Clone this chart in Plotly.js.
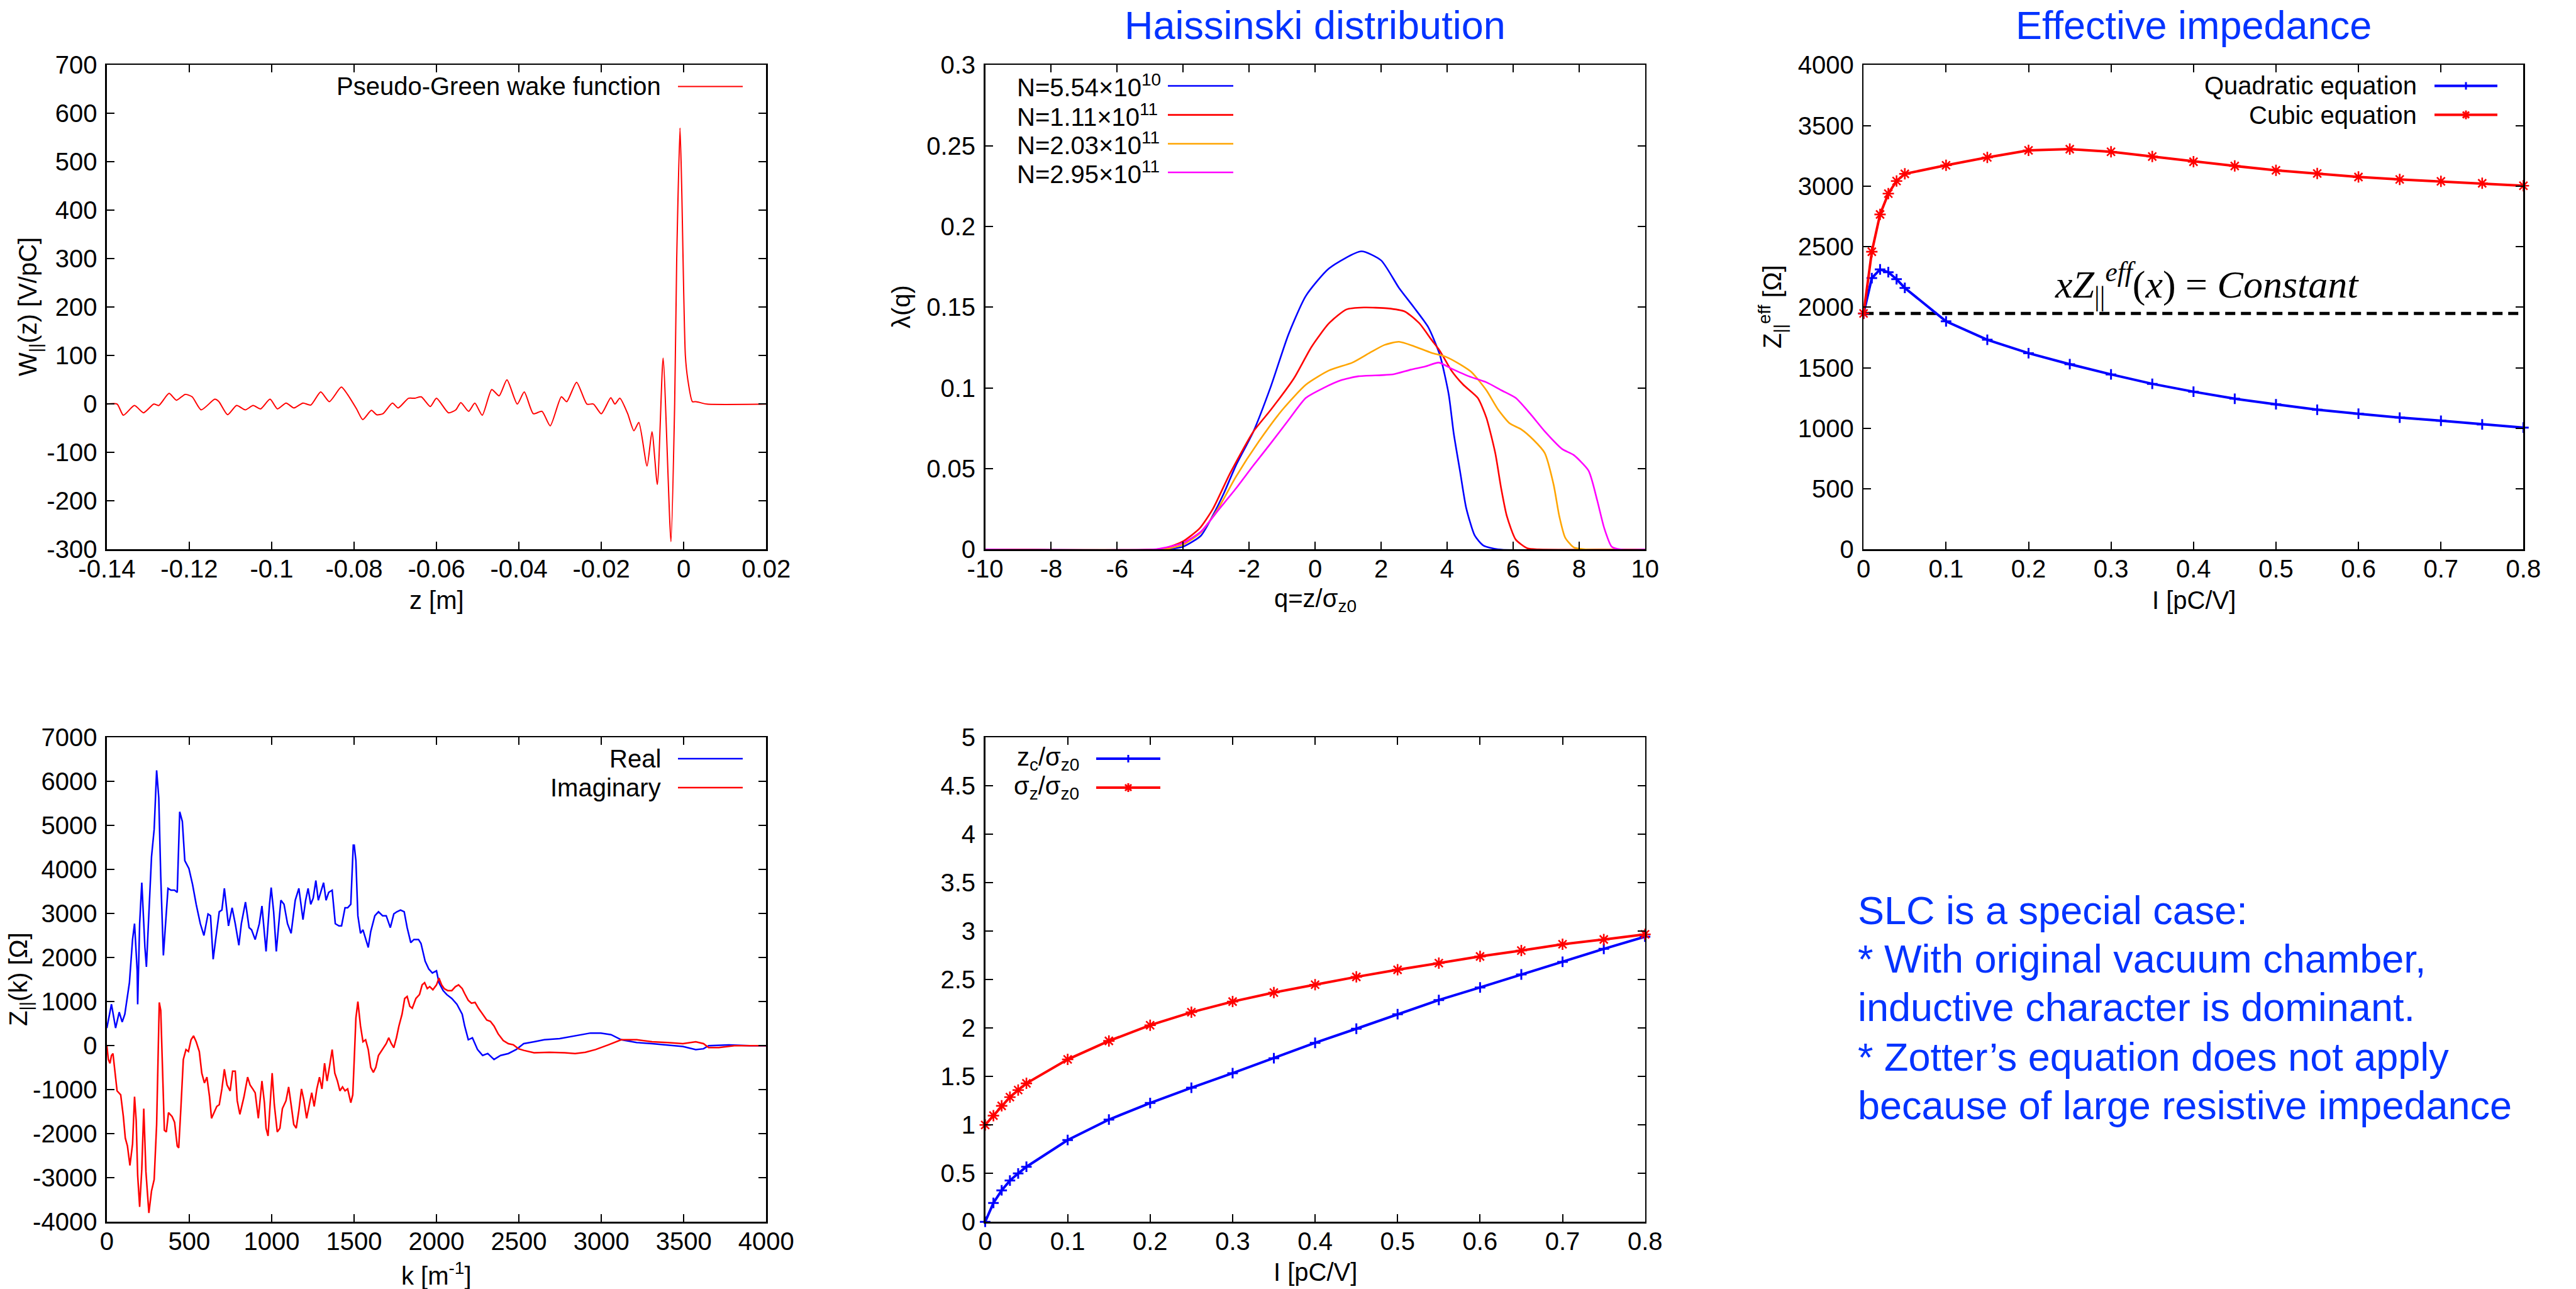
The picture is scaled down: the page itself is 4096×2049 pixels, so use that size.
<!DOCTYPE html>
<html>
<head>
<meta charset="utf-8">
<script src="https://cdn.plot.ly/plotly-3.0.1.min.js"></script>
<style>html,body{margin:0;padding:0;background:#fff;}#plot{width:4096px;height:2049px;}</style>
</head>
<body>
<div id="plot"></div>
<script>
// ---------------- DATA ----------------
// Plot 1: pseudo-Green wake function
const wakeZ = [-0.14,-0.1375,-0.1360,-0.1333,-0.1311,-0.1286,-0.1274,-0.1249,-0.1231,-0.1210,-0.1193,-0.1171,-0.1138,-0.1128,-0.1107,-0.1085,-0.1064,-0.1045,-0.1027,-0.1004,-0.0986,-0.0965,-0.0946,-0.0924,-0.0905,-0.0881,-0.0860,-0.0831,-0.0816,-0.0794,-0.0779,-0.0758,-0.0745,-0.0730,-0.0707,-0.0693,-0.0668,-0.0653,-0.0637,-0.0615,-0.0600,-0.0571,-0.0553,-0.0541,-0.0522,-0.0507,-0.0489,-0.0466,-0.0448,-0.0429,-0.0404,-0.0387,-0.0365,-0.0344,-0.0324,-0.0297,-0.0284,-0.0260,-0.0235,-0.0219,-0.0200,-0.0177,-0.0167,-0.0155,-0.0136,-0.0121,-0.0109,-0.0089,-0.0077,-0.0064,-0.0050,-0.0031,-0.0022,-0.0017,-0.0009,-0.0005,0.0004,0.0010,0.0021,0.0030,0.0056,0.02];
const wakeW = [0,0,-23,-3,-18,0,-3,22,8,20,15,-12,10,5,-22,-3,-12,-3,-10,10,-10,2,-8,2,-2,25,5,35,20,-10,-32,-13,-22,-20,2,-8,12,12,15,-5,12,-18,-12,3,-15,2,-23,30,17,50,0,25,-20,-15,-45,15,5,45,0,0,-20,13,0,12,-20,-55,-38,-128,-57,-166,95,-284,0,300,570,450,100,50,5,5,0,0];

// Plot 2: Haissinski distribution
const hq1 = [-10,-4.6,-4,-3.46,-3.1,-2.76,-2.4,-1.87,-1.34,-0.81,-0.28,0.42,1.4,2.0,2.54,2.99,3.43,3.78,4.05,4.2,4.4,4.58,4.84,5.1,5.55,10];
const hl1 = [0,0,0.0017,0.0085,0.021,0.035,0.052,0.073,0.101,0.133,0.157,0.174,0.1846,0.179,0.162,0.150,0.1376,0.1205,0.096,0.072,0.0475,0.0256,0.0085,0.0024,0,0];
const hq2 = [-10,-4.8,-4.5,-4,-3.5,-3.1,-2.58,-1.87,-1.34,-0.64,-0.11,0.42,0.95,1.48,2.19,2.72,3.16,3.52,3.78,4.13,4.49,4.93,5.19,5.46,5.64,5.81,6.08,6.43,6.78,10];
const hl2 = [0,0,0.001,0.005,0.013,0.025,0.047,0.073,0.0865,0.106,0.1254,0.140,0.1486,0.1498,0.1493,0.1473,0.140,0.130,0.123,0.1108,0.102,0.0938,0.0816,0.0597,0.0377,0.0207,0.0061,0.0007,0,0];
const hq3 = [-10,-4.6,-4,-3.46,-2.93,-2.4,-1.7,-0.99,-0.28,0.42,1.13,1.66,2.1,2.54,2.99,3.52,3.96,4.4,4.75,5.19,5.55,5.9,6.25,6.61,6.96,7.23,7.4,7.58,7.84,8.2,10];
const hl3 = [0,0,0.003,0.0105,0.0256,0.045,0.067,0.0865,0.102,0.1108,0.1157,0.1218,0.1266,0.1286,0.1259,0.1218,0.1193,0.1145,0.1096,0.0986,0.0865,0.078,0.0743,0.068,0.0597,0.040,0.0207,0.0073,0.0012,0,0];
const hq4 = [-10,-4.9,-4.52,-4,-3.46,-2.93,-2.4,-1.87,-1.34,-0.81,-0.28,0.25,0.78,1.31,2.01,2.37,2.9,3.34,3.75,4.13,4.66,5.19,5.64,6.08,6.52,6.96,7.49,7.84,8.29,8.55,8.76,8.99,9.26,10];
const hl4 = [0,0,0.0012,0.004,0.011,0.0244,0.0377,0.052,0.0658,0.080,0.0938,0.0999,0.1047,0.1072,0.1079,0.1084,0.1113,0.1133,0.1157,0.112,0.1072,0.1035,0.0986,0.0938,0.084,0.0731,0.0621,0.0584,0.0487,0.0304,0.0134,0.0017,0,0];
const hNames = ["N=5.54×10<sup>10</sup>","N=1.11×10<sup>11</sup>","N=2.03×10<sup>11</sup>","N=2.95×10<sup>11</sup>"];

// Plot 3 & 5: current scan
const currentI = [0,0.01,0.02,0.03,0.04,0.05,0.1,0.15,0.2,0.25,0.3,0.35,0.4,0.45,0.5,0.55,0.6,0.65,0.7,0.75,0.8];
const zQuad  = [1948,2240,2312,2289,2231,2159,1883,1731,1620,1529,1445,1367,1302,1244,1198,1153,1120,1088,1062,1032,1006];
const zCubic = [1948,2458,2766,2938,3042,3101,3172,3237,3295,3305,3283,3244,3201,3166,3130,3104,3075,3055,3039,3023,3003];
const constLineI = [0,0.8];
const constLineZ = [1948,1948];
const zcRatio = [0,0.195,0.325,0.426,0.499,0.568,0.844,1.055,1.226,1.384,1.534,1.688,1.847,1.993,2.143,2.289,2.419,2.553,2.683,2.817,2.943];
const szRatio = [1.0,1.096,1.197,1.287,1.360,1.429,1.676,1.867,2.029,2.163,2.273,2.366,2.447,2.528,2.601,2.670,2.739,2.800,2.865,2.914,2.967];

// Plot 4: impedance Z(k)
const realK = [0,28,53,75,93,109,137,156,168,184,187,199,212,231,240,255,271,287,302,315,327,343,355,371,389,411,427,442,458,473,498,520,542,567,589,614,629,645,660,682,698,713,738,760,779,801,816,841,863,878,900,925,941,966,987,997,1012,1028,1056,1075,1096,1118,1143,1165,1190,1206,1221,1237,1252,1268,1283,1315,1330,1346,1367,1386,1408,1424,1445,1461,1480,1495,1501,1511,1523,1539,1554,1570,1586,1601,1626,1648,1673,1695,1720,1741,1760,1782,1804,1822,1844,1863,1891,1906,1931,1953,1975,2000,2015,2040,2062,2093,2124,2156,2171,2193,2218,2249,2280,2311,2349,2389,2436,2483,2529,2592,2654,2747,2841,2934,2997,3059,3121,3215,3308,3402,3495,3573,3620,3651,3775,3900,4000];
const realZ = [400,940,400,760,536,714,1430,2410,2770,1700,940,2770,3700,2230,1790,2950,4290,4910,6250,5630,3840,2050,2770,3570,3530,3530,3480,5310,5090,4200,4020,3660,3210,2770,2500,2990,2950,1960,2410,3040,3080,3570,2720,3130,2770,2280,2770,3260,2680,2630,2410,2770,3170,2140,3210,3590,3040,2140,3300,3210,2770,2550,3300,3570,2860,3300,3570,3210,3350,3750,3300,3700,3300,3480,3530,2770,2720,2720,3130,3130,3210,4550,4550,4200,2950,2550,2630,2410,2230,2590,2950,3040,2950,2950,2680,2990,3040,3080,3040,2680,2340,2410,2410,2320,1920,1740,1650,1700,1430,1250,1160,1070,940,714,446,134,179,-89,-223,-179,-313,-223,-179,-89,45,89,134,160,223,286,286,250,134,71,45,18,-18,-89,-71,0,18,0,0];
const imagK = [0,9,19,28,37,50,62,84,100,112,125,140,156,168,178,187,199,212,224,237,255,271,287,302,318,327,336,349,361,374,396,411,427,436,449,464,480,495,511,526,542,561,576,592,607,623,635,651,667,682,698,713,729,748,763,779,791,807,832,854,869,885,900,919,941,956,966,978,991,1003,1016,1034,1050,1065,1087,1103,1118,1134,1149,1165,1181,1196,1212,1227,1243,1258,1274,1290,1305,1321,1336,1352,1367,1383,1399,1414,1430,1445,1461,1480,1492,1501,1511,1523,1539,1554,1570,1586,1601,1617,1632,1648,1673,1695,1710,1726,1741,1757,1772,1791,1807,1822,1838,1853,1875,1897,1913,1928,1944,1959,1978,2000,2015,2031,2047,2068,2093,2115,2134,2156,2171,2193,2212,2234,2255,2280,2305,2327,2349,2374,2405,2436,2467,2498,2529,2592,2685,2779,2841,2903,2965,3043,3121,3215,3308,3402,3495,3573,3620,3651,3713,3807,4000];
const imagZ = [0,-313,-400,-223,-179,-625,-1027,-1116,-1607,-2100,-2280,-2720,-2230,-1160,-1700,-2950,-3660,-2810,-1430,-2860,-3800,-3300,-3040,-1790,980,800,-446,-1920,-1960,-1520,-1610,-1740,-2280,-2320,-1430,-313,-89,-134,134,223,89,-134,-625,-848,-714,-1160,-1650,-1520,-1380,-1340,-982,-536,-893,-1027,-580,-580,-1250,-1560,-1160,-714,-893,-982,-1070,-1650,-804,-1295,-1875,-2050,-1340,-625,-1340,-1960,-1875,-1430,-1250,-938,-1340,-1790,-1875,-1470,-982,-1250,-1650,-1340,-1070,-1380,-982,-714,-982,-400,-804,-446,-89,-625,-804,-1027,-938,-1027,-982,-1295,-1116,-313,625,1000,446,89,134,-89,-491,-607,-491,-223,-89,45,179,45,-45,179,446,714,1070,1116,893,848,1070,1160,1380,1430,1295,1340,1270,1380,1536,1380,1295,1250,1250,1340,1380,1295,1180,1027,964,982,848,714,580,553,446,268,116,45,18,-71,-107,-161,-152,-161,-179,-152,-89,18,134,134,89,71,45,89,45,-45,-45,0,0];

// Tick labels
const wakeXTicks = [-0.14,-0.12,-0.1,-0.08,-0.06,-0.04,-0.02,0,0.02];
const wakeXText  = ["-0.14","-0.12","-0.1","-0.08","-0.06","-0.04","-0.02","0","0.02"];
const wakeYTicks = [-300,-200,-100,0,100,200,300,400,500,600,700];
const wakeYText  = ["-300","-200","-100","0","100","200","300","400","500","600","700"];
const qTicks = [-10,-8,-6,-4,-2,0,2,4,6,8,10];
const qText  = ["-10","-8","-6","-4","-2","0","2","4","6","8","10"];
const lamTicks = [0,0.05,0.1,0.15,0.2,0.25,0.3];
const lamText  = ["0","0.05","0.1","0.15","0.2","0.25","0.3"];
const iTicks = [0,0.1,0.2,0.3,0.4,0.5,0.6,0.7,0.8];
const iText  = ["0","0.1","0.2","0.3","0.4","0.5","0.6","0.7","0.8"];
const effTicks = [0,500,1000,1500,2000,2500,3000,3500,4000];
const effText  = ["0","500","1000","1500","2000","2500","3000","3500","4000"];
const kTicks = [0,500,1000,1500,2000,2500,3000,3500,4000];
const kText  = ["0","500","1000","1500","2000","2500","3000","3500","4000"];
const zkTicks = [-4000,-3000,-2000,-1000,0,1000,2000,3000,4000,5000,6000,7000];
const zkText  = ["-4000","-3000","-2000","-1000","0","1000","2000","3000","4000","5000","6000","7000"];
const rTicks = [0,0.5,1,1.5,2,2.5,3,3.5,4,4.5,5];
const rText  = ["0","0.5","1","1.5","2","2.5","3","3.5","4","4.5","5"];

const noteLines = ["SLC is a special case:","* With original vacuum chamber,","inductive character is dominant.","* Zotter\u2019s equation does not apply","because of large resistive impedance"];

// ---------------- STYLE / LAYOUT ----------------
const W = 4096, H = 2049;
const X = px => px / W;
const Y = py => 1 - py / H;
const FONT = "Liberation Sans, Arial, sans-serif";
const BLUE = "#0000ff", RED = "#ff0000", ORANGE = "#ffa500", MAGENTA = "#ff00ff";
const SLIDEBLUE = "#0433ff";

const col1 = [X(169.9), X(1218.2)], col2 = [X(1566.5), X(2615.7)], col3 = [X(2963.2), X(4012.4)];
const row1 = [Y(873.3), Y(103.3)], row2 = [Y(1942.2), Y(1172.1)];

function axis(domain, anchor, range, tv, tt, isX) {
  return {
    domain: domain, anchor: anchor, range: range, autorange: false,
    tickmode: 'array', tickvals: tv, ticktext: tt,
    showline: true, linecolor: '#000', linewidth: 2.5, mirror: 'ticks',
    ticks: 'inside', ticklen: 12, tickwidth: 2, tickcolor: '#000',
    showgrid: false, zeroline: false, fixedrange: true,
    tickfont: {family: FONT, size: 40, color: '#000'},
    ticklabelstandoff: isX ? -6 : 5
  };
}

const traces = [];
traces.push({x: wakeZ, y: wakeW, xaxis: 'x', yaxis: 'y', mode: 'lines', line: {color: RED, width: 2, shape: 'spline', smoothing: 0.6}, showlegend: false});

const hq = [hq1, hq2, hq3, hq4], hl = [hl1, hl2, hl3, hl4], hc = [BLUE, RED, ORANGE, MAGENTA];
for (let i = 0; i < 4; i++) {
  traces.push({x: hq[i], y: hl[i], xaxis: 'x2', yaxis: 'y2', mode: 'lines', line: {color: hc[i], width: 2.6, shape: 'spline', smoothing: 0.6}, showlegend: false});
}

traces.push({x: constLineI, y: constLineZ, xaxis: 'x3', yaxis: 'y3', mode: 'lines', line: {color: '#000', width: 5, dash: '16px,9px'}, showlegend: false});
traces.push({x: currentI, y: zQuad, xaxis: 'x3', yaxis: 'y3', mode: 'lines+markers', cliponaxis: false,
  line: {color: BLUE, width: 4}, marker: {symbol: 'cross-thin', size: 12, line: {color: BLUE, width: 3}}, showlegend: false});
traces.push({x: currentI, y: zCubic, xaxis: 'x3', yaxis: 'y3', mode: 'lines+markers', cliponaxis: false,
  line: {color: RED, width: 4}, marker: {symbol: 'asterisk', size: 15, line: {color: RED, width: 2.6}}, showlegend: false});

traces.push({x: realK, y: realZ, xaxis: 'x4', yaxis: 'y4', mode: 'lines', line: {color: BLUE, width: 2.5}, showlegend: false});
traces.push({x: imagK, y: imagZ, xaxis: 'x4', yaxis: 'y4', mode: 'lines', line: {color: RED, width: 2.5}, showlegend: false});

traces.push({x: currentI, y: zcRatio, xaxis: 'x5', yaxis: 'y5', mode: 'lines+markers', cliponaxis: false,
  line: {color: BLUE, width: 4}, marker: {symbol: 'cross-thin', size: 12, line: {color: BLUE, width: 3}}, showlegend: false});
traces.push({x: currentI, y: szRatio, xaxis: 'x5', yaxis: 'y5', mode: 'lines+markers', cliponaxis: false,
  line: {color: RED, width: 4}, marker: {symbol: 'asterisk', size: 15, line: {color: RED, width: 2.6}}, showlegend: false});

const annotations = [];
const shapes = [];
function txt(text, px, py, opts) {
  annotations.push(Object.assign({text: text, x: X(px), y: Y(py), xref: 'paper', yref: 'paper', showarrow: false,
    xanchor: 'center', yanchor: 'middle', font: {family: FONT, size: 40, color: '#000'}}, opts || {}));
}
function hline(x0, x1, py, color, width) {
  shapes.push({type: 'line', xref: 'paper', yref: 'paper', x0: X(x0), x1: X(x1), y0: Y(py), y1: Y(py), line: {color: color, width: width}});
}
function seg(ax, ay, bx, by, color, width) {
  shapes.push({type: 'line', xref: 'paper', yref: 'paper', x0: X(ax), x1: X(bx), y0: Y(ay), y1: Y(by), line: {color: color, width: width}});
}
function plusMark(cx, cy, r, color) { seg(cx - r, cy, cx + r, cy, color, 3); seg(cx, cy - r, cx, cy + r, color, 3); }
function starMark(cx, cy, r, color) { plusMark(cx, cy, r, color); const d = r * 0.72; seg(cx - d, cy - d, cx + d, cy + d, color, 3); seg(cx - d, cy + d, cx + d, cy - d, color, 3); }

// Titles
txt("Haissinski distribution", 2091, 40, {font: {family: FONT, size: 63, color: SLIDEBLUE}});
txt("Effective impedance", 3488, 40, {font: {family: FONT, size: 63, color: SLIDEBLUE}});

// Axis titles
txt("W<sub>||</sub>(z) [V/pC]", 47, 488, {textangle: -90});
txt("z [m]", 694, 954);
txt("λ(q)", 1433, 488, {textangle: -90});
txt("q=z/σ<sub>z0</sub>", 2091, 954);
txt("Z<sub>||</sub><sup>eff</sup> [Ω]", 2818, 488, {textangle: -90});
txt("I [pC/V]", 3488, 954);
txt("Z<sub>||</sub>(k) [Ω]", 32, 1557, {textangle: -90});
txt("k [m<sup>-1</sup>]", 694, 2025);
txt("I [pC/V]", 2091, 2022);

// Equation annotation
txt("<i>xZ</i><sub>||</sub><sup><i>eff</i></sup>(<i>x</i>) = <i>Constant</i>", 3509, 451,
  {font: {family: "Liberation Serif, Times New Roman, serif", size: 62, color: '#000'}});

// Legends (gnuplot style: text then sample)
txt("Pseudo-Green wake function", 1053, 137.5, {xanchor: 'right'});
hline(1078, 1181, 137.5, RED, 2);

const l2y = [136.5, 182.6, 228.5, 274];
for (let i = 0; i < 4; i++) {
  txt(hNames[i], 1615, l2y[i], {xanchor: 'left'});
  hline(1857, 1961, l2y[i], hc[i], 2.6);
}

txt("Quadratic equation", 3845, 136.5, {xanchor: 'right'});
hline(3871, 3971, 136.5, BLUE, 4); plusMark(3921, 136.5, 6, BLUE);
txt("Cubic equation", 3845, 182.6, {xanchor: 'right'});
hline(3871, 3971, 182.6, RED, 4); starMark(3921, 182.6, 7, RED);

txt("Real", 1053, 1206, {xanchor: 'right'});
hline(1078, 1181, 1206, BLUE, 2.5);
txt("Imaginary", 1053, 1252, {xanchor: 'right'});
hline(1078, 1181, 1252, RED, 2.5);

txt("z<sub>c</sub>/σ<sub>z0</sub>", 1718, 1206, {xanchor: 'right'});
hline(1743, 1845, 1206, BLUE, 4); plusMark(1794, 1206, 6, BLUE);
txt("σ<sub>z</sub>/σ<sub>z0</sub>", 1718, 1252, {xanchor: 'right'});
hline(1743, 1845, 1252, RED, 4); starMark(1794, 1252, 7, RED);

// Note text block
const noteMid = [1446.6, 1524.3, 1601.1, 1679.6, 1756.5];
for (let i = 0; i < noteLines.length; i++) {
  txt(noteLines[i], 2952, noteMid[i], {xanchor: 'left', font: {family: FONT, size: 63, color: SLIDEBLUE}});
}

const layout = {
  width: W, height: H, margin: {l: 0, r: 0, t: 0, b: 0, pad: 0},
  paper_bgcolor: '#fff', plot_bgcolor: '#fff', showlegend: false,
  font: {family: FONT, color: '#000'},
  xaxis:  axis(col1, 'y',  [-0.14, 0.02], wakeXTicks, wakeXText, true),
  yaxis:  axis(row1, 'x',  [-300, 700], wakeYTicks, wakeYText, false),
  xaxis2: axis(col2, 'y2', [-10, 10], qTicks, qText, true),
  yaxis2: axis(row1, 'x2', [0, 0.3], lamTicks, lamText, false),
  xaxis3: axis(col3, 'y3', [0, 0.8], iTicks, iText, true),
  yaxis3: axis(row1, 'x3', [0, 4000], effTicks, effText, false),
  xaxis4: axis(col1, 'y4', [0, 4000], kTicks, kText, true),
  yaxis4: axis(row2, 'x4', [-4000, 7000], zkTicks, zkText, false),
  xaxis5: axis(col2, 'y5', [0, 0.8], iTicks, iText, true),
  yaxis5: axis(row2, 'x5', [0, 5], rTicks, rText, false),
  annotations: annotations, shapes: shapes
};

Plotly.newPlot('plot', traces, layout, {displayModeBar: false, staticPlot: true});
</script>
</body>
</html>
